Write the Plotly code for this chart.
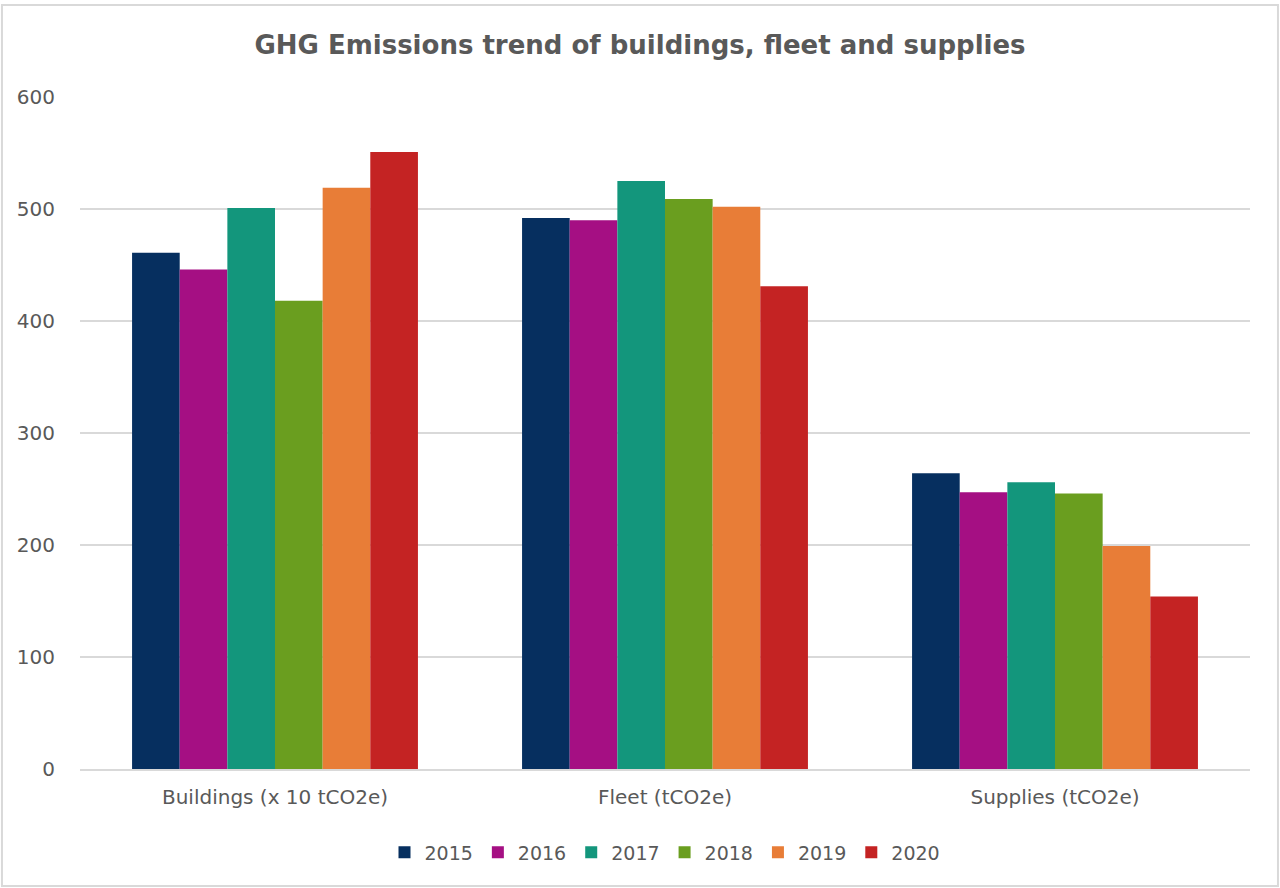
import plotly.graph_objects as go

# Data
categories = ['Buildings (x 10 tCO2e)', 'Fleet (tCO2e)', 'Supplies (tCO2e)']
years = ['2015', '2016', '2017', '2018', '2019', '2020']
values = {
    '2015': [461, 492, 264],
    '2016': [446, 490, 247],
    '2017': [501, 525, 256],
    '2018': [418, 509, 246],
    '2019': [519, 502, 199],
    '2020': [551, 431, 154],
}
colors = ['#062F5F', '#A50F83', '#13967C', '#6A9E1F', '#E87D37', '#C42323']

FONT = 'DejaVu Sans, sans-serif'
GREY = '#595959'

fig = go.Figure()
for year, color in zip(years, colors):
    fig.add_trace(go.Bar(
        x=categories,
        y=values[year],
        name=year,
        marker=dict(color=color, line=dict(width=0)),
    ))

fig.update_layout(
    barmode='group',
    bargap=0.267,
    bargroupgap=0,
    width=1280,
    height=888,
    margin=dict(l=80, r=30, t=97, b=119),
    paper_bgcolor='white',
    plot_bgcolor='white',
    font=dict(family=FONT, color=GREY, size=20),
    title=dict(
        text='<b>GHG Emissions trend of buildings, fleet and supplies</b>',
        x=0.5, xanchor='center',
        y=0.949, yanchor='middle',
        font=dict(size=26, color=GREY, family=FONT),
    ),
    xaxis=dict(
        showgrid=False,
        showline=True,
        linecolor='#D9D9D9',
        linewidth=2,
        ticks='outside',
        ticklen=9,
        tickcolor='white',
        tickfont=dict(size=20),
    ),
    yaxis=dict(
        range=[0, 600],
        dtick=100,
        showgrid=True,
        gridcolor='#D9D9D9',
        gridwidth=1.5,
        zeroline=False,
        ticks='outside',
        ticklen=20,
        tickcolor='white',
        tickfont=dict(size=20),
    ),
    legend=dict(
        orientation='h',
        x=0.5, xanchor='center',
        y=-0.124, yanchor='middle',
        font=dict(size=19),
        itemwidth=30,
        traceorder='normal',
    ),
    shapes=[dict(
        type='rect', xref='paper', yref='paper',
        x0=-0.0667, x1=1.0239, y0=-0.174, y1=1.137,
        line=dict(color='#D9D9D9', width=2),
        fillcolor='rgba(0,0,0,0)',
        layer='below',
    )],
)

# drop the default page margin so the figure sits at the window's corner
fig.write_html('out.html', config={'displayModeBar': False},
               post_script="document.body.style.margin='0';")
